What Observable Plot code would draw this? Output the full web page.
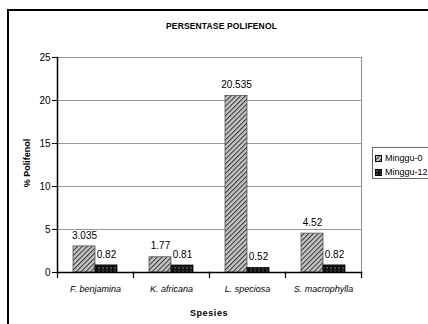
<!DOCTYPE html>
<html><head><meta charset="utf-8">
<script src="https://cdn.jsdelivr.net/npm/d3@7"></script>
<script src="https://cdn.jsdelivr.net/npm/@observablehq/plot@0.6"></script>
<style>
body{margin:0;background:#fff;font-family:"Liberation Sans",Arial,sans-serif;}
#wrap{position:relative;width:428px;height:324px;overflow:hidden;background:#fff;}
#border{position:absolute;left:7px;top:9px;width:450px;height:350px;border:2px solid #000;box-sizing:border-box;}
#chart{position:absolute;left:0;top:0;}
.lbl{position:absolute;white-space:nowrap;color:#000;}
#title{left:221.5px;top:26px;transform:translate(-50%,-50%);font-weight:bold;font-size:8.5px;letter-spacing:0.15px;}
#ylabel{left:27px;top:163px;transform:translate(-50%,-50%) rotate(-90deg);font-weight:bold;font-size:9px;}
#xlabel{left:209px;top:313px;transform:translate(-50%,-50%);font-weight:bold;font-size:9px;letter-spacing:0.6px;}
#legend{position:absolute;left:372px;top:147px;width:70px;height:32px;border:1px solid #666;background:#fff;box-sizing:border-box;font-size:9px;}
#legend .row{position:absolute;left:2px;display:flex;align-items:center;line-height:10px;}
#legend svg{margin-right:3px;}
svg [aria-label="fx-axis tick label"] text{font-style:italic;}
</style>
</head><body>
<svg width="0" height="0" style="position:absolute">
  <defs>
    <pattern id="hatch" width="3.4" height="3.4" patternUnits="userSpaceOnUse" patternTransform="rotate(45)">
      <rect width="3.4" height="3.4" fill="#c4c4c4"></rect>
      <line x1="0" y1="0" x2="0" y2="3.4" stroke="#333" stroke-width="2"></line>
    </pattern>
    <pattern id="dots" width="4" height="3.5" patternUnits="userSpaceOnUse">
      <rect width="4" height="3.5" fill="#111"></rect>
      <circle cx="2" cy="1.75" r="0.75" fill="#9a9a9a"></circle>
    </pattern>
  </defs>
</svg>
<div id="wrap">
  <div id="border"></div>
  <div id="chart"></div>
  <div class="lbl" id="title">PERSENTASE POLIFENOL</div>
  <div class="lbl" id="ylabel">% Polifenol</div>
  <div class="lbl" id="xlabel">Spesies</div>
  <div id="legend"></div>
</div>
<script>
const categories = ["F. benjamina", "K. africana", "L. speciosa", "S. macrophylla"];
const seriesNames = ["Minggu-0", "Minggu-12"];
const minggu0 = [3.035, 1.77, 20.535, 4.52];
const minggu12 = [0.82, 0.81, 0.52, 0.82];
const yTicks = [0, 5, 10, 15, 20, 25];
const seriesFill = {"Minggu-0": "url(#hatch)", "Minggu-12": "url(#dots)"};
const seriesStroke = {"Minggu-0": "#555", "Minggu-12": "#000"};

const rows = categories.flatMap((c, i) => [
  {cat: c, series: seriesNames[0], value: minggu0[i]},
  {cat: c, series: seriesNames[1], value: minggu12[i]}
]);

const chart = Plot.plot({
  width: 428, height: 324,
  marginLeft: 56, marginRight: 66, marginTop: 57, marginBottom: 52,
  style: {fontFamily: "'Liberation Sans', Arial, sans-serif", fontSize: "10px", background: "transparent", color: "#000"},
  fx: {domain: categories, padding: 0},
  x: {domain: seriesNames, paddingInner: 0, paddingOuter: 0.7, axis: null},
  y: {domain: [0, 25], axis: null},
  marks: [
    Plot.gridY(yTicks, {stroke: "#999", strokeOpacity: 1, strokeWidth: 1.2}),
    Plot.frame({anchor: "right", stroke: "#999", strokeWidth: 1.2, fx: () => categories[3]}),
    ...seriesNames.map(s => Plot.barY(rows.filter(d => d.series === s), {
      fx: "cat", x: "series", y: "value", fill: seriesFill[s], stroke: seriesStroke[s], strokeWidth: 0.8
    })),
    Plot.text(rows, {fx: "cat", x: "series", y: "value", text: d => String(d.value), dy: -11, fontSize: 10}),
    Plot.axisY(yTicks, {tickSize: 5, tickPadding: 2, label: null, fontSize: 10}),
    Plot.frame({anchor: "left", stroke: "#000", strokeWidth: 1.5, fx: () => categories[0]}),
    Plot.frame({anchor: "bottom", stroke: "#000", strokeWidth: 1.5}),
    Plot.frame({anchor: "left", stroke: "#000", strokeWidth: 1.2, insetTop: 215, insetBottom: -5}),
    Plot.frame({anchor: "right", stroke: "#000", strokeWidth: 1.2, insetTop: 215, insetBottom: -5, fx: () => categories[3]}),
    Plot.axisFx({anchor: "bottom", tickSize: 0, tickPadding: 13, label: null, fontStyle: "italic", fontSize: 9})
  ]
});
document.getElementById("chart").appendChild(chart);

const legend = document.getElementById("legend");
seriesNames.forEach((s, i) => {
  const row = document.createElement("div");
  row.className = "row";
  row.style.top = (5 + i * 14) + "px";
  row.innerHTML = `<svg width="7" height="7"><rect x="0.5" y="0.5" width="6" height="6" fill="${seriesFill[s]}" stroke="#000" stroke-width="1"></rect></svg><span>${s}</span>`;
  legend.appendChild(row);
});
</script>
</body></html>
